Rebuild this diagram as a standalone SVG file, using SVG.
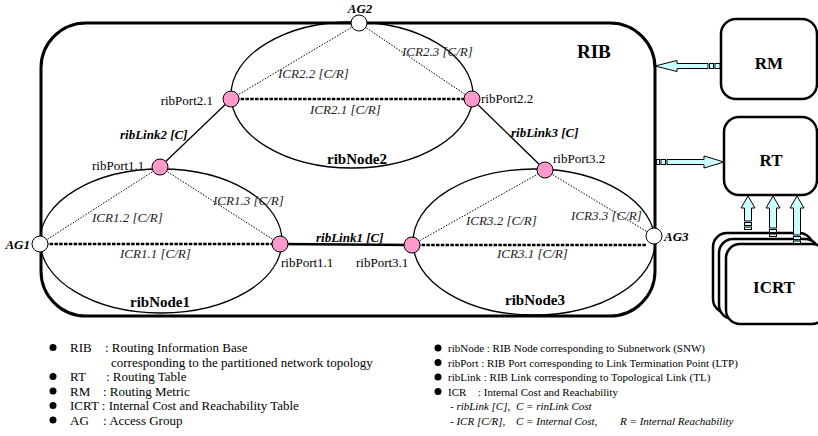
<svg xmlns="http://www.w3.org/2000/svg" width="818" height="436" viewBox="0 0 818 436">
<defs>
<style>
text{font-family:"Liberation Serif","Times New Roman",serif;fill:#000}
.ell{fill:none;stroke:#000;stroke-width:1.3}
.link{stroke:#000;stroke-width:1.3;fill:none}
.thick{stroke:#000;stroke-width:2.6;fill:none}
.icrT{stroke:#000;stroke-width:2.6;stroke-dasharray:3.5 1.3;fill:none}
.icr{stroke:#000;stroke-width:1;stroke-dasharray:1.5 1.5;fill:none}
.port{fill:#ff99cc;stroke:#000;stroke-width:1}
.ag{fill:#fff;stroke:#000;stroke-width:1}
.lbl{font-size:13px;font-style:italic;fill:#222}
.plbl{font-size:13px}
.lk{font-size:13px;font-style:italic;font-weight:bold}
.nd{font-size:15px;font-weight:bold;text-anchor:middle}
.box{fill:#fff;stroke:#000;stroke-width:2.5}
.big{font-size:17px;font-weight:bold;text-anchor:middle}
.arr{fill:#ccffff;stroke:#000;stroke-width:1}
.leg{font-size:13px}
.legr{font-size:11px}
.legi{font-size:11px;font-style:italic}
</style>
</defs>
<rect width="818" height="436" fill="#fff"/>

<g id="RIB">
<rect x="41" y="23" width="614" height="293" rx="45" ry="45" fill="#fff" stroke="#000" stroke-width="3"/>
<text x="577" y="58" font-size="19" font-weight="bold">RIB</text>
</g>

<g id="ribNode2"><ellipse class="ell" cx="352" cy="95" rx="121" ry="73"/><text class="nd" x="357" y="164">ribNode2</text></g>
<g id="ribNode1"><ellipse class="ell" cx="161" cy="241" rx="121" ry="72"/><text class="nd" x="160" y="307">ribNode1</text></g>
<g id="ribNode3"><ellipse class="ell" cx="534" cy="242" rx="121" ry="73"/><text class="nd" x="535" y="305">ribNode3</text></g>

<g id="connectors">
<line class="icr" x1="359" y1="23" x2="231" y2="99"/>
<line class="icr" x1="359" y1="23" x2="472" y2="99"/>
<line class="icrT" x1="231" y1="99" x2="472" y2="99"/>
<line class="link" x1="160" y1="167" x2="231" y2="99"/>
<line class="link" x1="472" y1="99" x2="545" y2="170"/>
<line class="icr" x1="40" y1="244" x2="160" y2="167"/>
<line class="icr" x1="160" y1="167" x2="280" y2="244"/>
<line class="icrT" x1="40" y1="244" x2="280" y2="244"/>
<line class="thick" x1="280" y1="244" x2="412" y2="245"/>
<line class="icr" x1="412" y1="245" x2="545" y2="170"/>
<line class="icr" x1="545" y1="170" x2="654" y2="236"/>
<line class="icrT" x1="412" y1="245" x2="646" y2="245"/>
<text class="lbl" x="278" y="78">ICR2.2 [C/R]</text>
<text class="lbl" x="402" y="56">ICR2.3 [C/R]</text>
<text class="lbl" x="310" y="114">ICR2.1 [C/R]</text>
<text class="lk" x="120" y="139">ribLink2 [C]</text>
<text class="lk" x="511" y="137">ribLink3 [C]</text>
<text class="lk" x="316" y="242">ribLink1 [C]</text>
<text class="lbl" x="92" y="222">ICR1.2 [C/R]</text>
<text class="lbl" x="213" y="205">ICR1.3 [C/R]</text>
<text class="lbl" x="120" y="258">ICR1.1 [C/R]</text>
<text class="lbl" x="466" y="225">ICR3.2 [C/R]</text>
<text class="lbl" x="571" y="220">ICR3.3 [C/R]</text>
<text class="lbl" x="497" y="258">ICR3.1 [C/R]</text>
</g>

<g id="ribPort2.1"><circle class="port" cx="231" cy="99" r="8"/><text class="plbl" x="213" y="105" text-anchor="end">ribPort2.1</text></g>
<g id="ribPort2.2"><circle class="port" cx="472" cy="99" r="8"/><text class="plbl" x="481" y="103">ribPort2.2</text></g>
<g id="ribPort1.1a"><circle class="port" cx="160" cy="167" r="8"/><text class="plbl" x="92" y="170">ribPort1.1</text></g>
<g id="ribPort1.1b"><circle class="port" cx="280" cy="244" r="8"/><text class="plbl" x="281" y="267">ribPort1.1</text></g>
<g id="ribPort3.1"><circle class="port" cx="412" cy="245" r="8"/><text class="plbl" x="356" y="267">ribPort3.1</text></g>
<g id="ribPort3.2"><circle class="port" cx="545" cy="170" r="8"/><text class="plbl" x="553" y="163">ribPort3.2</text></g>

<g id="AG2"><circle class="ag" cx="359" cy="23" r="8"/><text class="lk" x="360" y="13" text-anchor="middle">AG2</text></g>
<g id="AG1"><circle class="ag" cx="40" cy="244" r="8"/><text class="lk" x="30" y="249" text-anchor="end">AG1</text></g>
<g id="AG3"><circle class="ag" cx="654" cy="236" r="8"/><text class="lk" x="664" y="241">AG3</text></g>

<g id="RM"><rect class="box" x="721" y="19" width="96" height="80" rx="15"/><text class="big" x="769" y="69">RM</text></g>
<g id="RT"><rect class="box" x="724" y="117" width="93" height="78" rx="15"/><text class="big" x="771" y="166">RT</text></g>
<g id="ICRT">
<rect class="box" x="713" y="233" width="100" height="80" rx="14"/>
<rect class="box" x="719" y="239" width="100" height="80" rx="14"/>
<rect class="box" x="726" y="244" width="100" height="80" rx="14"/>
<text class="big" x="774" y="293">ICRT</text>
</g>

<g id="arrows">
<polygon class="arr" points="655,66 677,60.5 677,63.5 708,63.5 708,68.5 677,68.5 677,71.5"/>
<rect class="arr" x="709.5" y="63.5" width="4" height="5"/>
<rect class="arr" x="715" y="63.5" width="5" height="5"/>
<polygon class="arr" points="724,162 704,156 704,159.5 667,159.5 667,164.5 704,164.5 704,168"/>
<rect class="arr" x="656.5" y="159.5" width="3" height="5"/>
<rect class="arr" x="661" y="159.5" width="4.5" height="5"/>
<polygon class="arr" points="748,196 741,208 744.5,208 744.5,221 751.5,221 751.5,208 755,208"/>
<rect class="arr" x="744.5" y="222.5" width="7" height="3"/>
<rect class="arr" x="744.5" y="227" width="7" height="2.5"/>
<polygon class="arr" points="773,196 766,208 769.5,208 769.5,228 776.5,228 776.5,208 780,208"/>
<rect class="arr" x="769.5" y="229.5" width="7" height="3"/>
<rect class="arr" x="769.5" y="234" width="7" height="2.5"/>
<polygon class="arr" points="797,196 790,208 793.5,208 793.5,235 800.5,235 800.5,208 804,208"/>
<rect class="arr" x="793.5" y="236.5" width="7" height="3"/>
<rect class="arr" x="793.5" y="241" width="7" height="2.5"/>
</g>

<g id="legend">
<circle cx="53" cy="347.5" r="3.5"/>
<circle cx="53" cy="376.5" r="3.5"/>
<circle cx="53" cy="391" r="3.5"/>
<circle cx="53" cy="405.5" r="3.5"/>
<circle cx="53" cy="420" r="3.5"/>
<text class="leg" x="70" y="352">RIB</text><text class="leg" x="105" y="352">: Routing Information Base</text>
<text class="leg" x="111" y="366.5">corresponding to the partitioned network topology</text>
<text class="leg" x="70" y="381">RT</text><text class="leg" x="106" y="381">: Routing Table</text>
<text class="leg" x="70" y="395.5">RM</text><text class="leg" x="103" y="395.5">: Routing Metric</text>
<text class="leg" x="70" y="410">ICRT : Internal Cost and Reachability Table</text>
<text class="leg" x="70" y="424.5">AG</text><text class="leg" x="103" y="424.5">: Access Group</text>
<circle cx="438" cy="348" r="3.5"/>
<circle cx="438" cy="362.5" r="3.5"/>
<circle cx="438" cy="377" r="3.5"/>
<circle cx="438" cy="391.5" r="3.5"/>
<text class="legr" x="448" y="352">ribNode : RIB Node corresponding to Subnetwork (SNW)</text>
<text class="legr" x="448" y="366.5">ribPort : RIB Port corresponding to Link Termination Point (LTP)</text>
<text class="legr" x="448" y="381">ribLink : RIB Link corresponding to Topological Link (TL)</text>
<text class="legr" x="448" y="395.5">ICR<tspan x="478">: Internal Cost and Reachability</tspan></text>
<text class="legi" x="450" y="410">- ribLink [C],<tspan x="516">C = rinLink Cost</tspan></text>
<text class="legi" x="450" y="424.5">- ICR [C/R],<tspan x="516">C = Internal Cost,</tspan><tspan x="620">R = Internal Reachability</tspan></text>
</g>
</svg>
